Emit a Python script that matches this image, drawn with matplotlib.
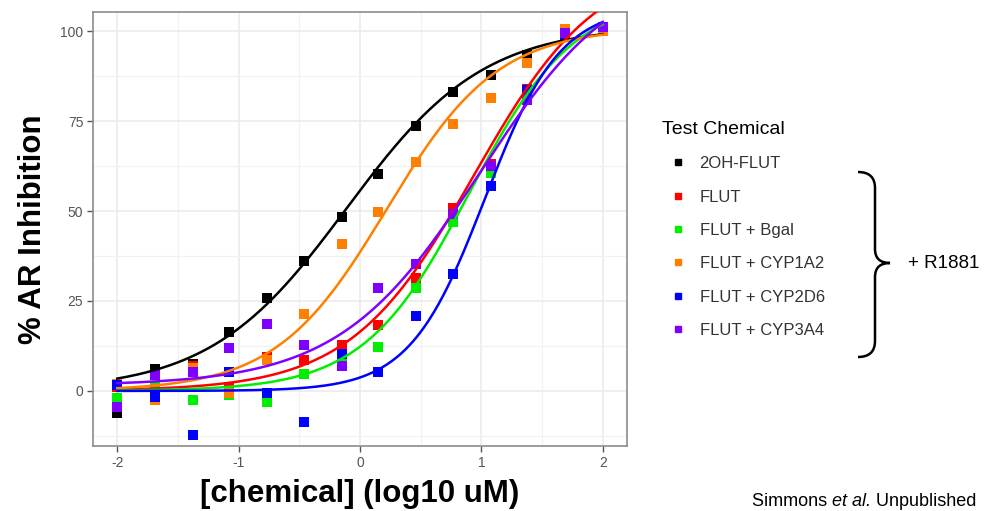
import numpy as np
import matplotlib
matplotlib.use("Agg")
import matplotlib.pyplot as plt
from matplotlib.path import Path
from matplotlib.patches import PathPatch
from matplotlib.lines import Line2D

plt.rcParams['font.family'] = ['Liberation Sans', 'DejaVu Sans']

# log10 uM concentrations (2-fold dilution series)
log_conc = [-2.0, -1.69, -1.38, -1.08, -0.77, -0.46, -0.15, 0.15, 0.46, 0.77, 1.08, 1.38, 1.69, 2.0]

names = ['2OH-FLUT', 'FLUT', 'FLUT + Bgal', 'FLUT + CYP1A2', 'FLUT + CYP2D6', 'FLUT + CYP3A4']
colors = ['#000000', '#FF0000', '#00EE00', '#FF8000', '#0000FF', '#8000FF']

# % AR inhibition
oh_flut = [-6.0, 6.0, 7.5, 16.3, 25.7, 36.0, 48.2, 60.4, 73.5, 83.2, 87.9, 93.3, 99.0, 101.0]
flut = [1.0, 1.0, 6.8, 1.0, 9.3, 8.5, 12.7, 18.3, 31.3, 50.7, 63.2, 84.0, 100.0, 101.0]
flut_bgal = [-2.0, 1.3, -2.6, -1.0, -3.0, 4.6, 7.5, 12.2, 28.5, 46.9, 60.7, 83.0, 100.0, 101.0]
flut_cyp1a2 = [2.0, -2.5, 6.5, -0.7, 8.5, 21.5, 40.7, 49.6, 63.5, 74.3, 81.3, 91.0, 100.7, 100.0]
flut_cyp2d6 = [1.6, -1.7, -12.3, 5.2, -0.7, -8.6, 10.4, 5.2, 20.7, 32.6, 57.0, 83.5, 99.0, 101.0]
flut_cyp3a4 = [-4.5, 4.4, 5.2, 11.9, 18.5, 12.9, 6.9, 28.7, 35.2, 49.2, 62.6, 80.8, 99.6, 101.0]
series = [oh_flut, flut, flut_bgal, flut_cyp1a2, flut_cyp2d6, flut_cyp3a4]

# fitted 4-parameter logistic curves: bottom, top, logEC50, hill slope
fit_bottom = [0.0, 0.0, 0.0, 0.0, 0.0, 1.5]
fit_top = [101.5, 120.0, 110.0, 101.0, 107.0, 120.0]
fit_ec50 = [-0.11, 0.94, 0.90, 0.22, 1.03, 0.99]
fit_hill = [0.77, 0.85, 1.0, 0.95, 1.4, 0.75]

W, H = 989, 511
fig = plt.figure(figsize=(W / 100, H / 100), dpi=100)
ax = fig.add_axes([93 / W, 1 - 446 / H, (627 - 93) / W, (446 - 12) / H])

xs = np.linspace(-2, 2, 300)
for i in range(len(names)):
    ax.scatter(log_conc, series[i], marker='s', s=42, color=colors[i], linewidths=0, zorder=3)
for i in range(len(names)):
    b, t, ec, n = fit_bottom[i], fit_top[i], fit_ec50[i], fit_hill[i]
    ys = b + (t - b) / (1 + 10 ** ((ec - xs) * n))
    ax.plot(xs, ys, color=colors[i], lw=1.8, zorder=4)

ax.set_xlim(-2.2, 2.2)
ax.set_ylim(-15.3, 105.3)
ax.set_xticks([-2, -1, 0, 1, 2])
ax.set_xticklabels(['-2', '-1', '0', '1', '2'])
ax.set_yticks([0, 25, 50, 75, 100])
ax.set_xticks([-1.5, -0.5, 0.5, 1.5], minor=True)
ax.set_yticks([-12.5, 12.5, 37.5, 62.5, 87.5], minor=True)
ax.grid(True, which='major', color='#EBEBEB', lw=1.2, zorder=0)
ax.grid(True, which='minor', color='#F2F2F2', lw=0.9, zorder=0)
ax.set_axisbelow(True)
ax.tick_params(which='major', direction='out', length=4, width=1, color='#555555',
               labelcolor='#555555', labelsize=10, pad=3)
ax.tick_params(which='minor', length=0)
for sp in ax.spines.values():
    sp.set_color('#8C8C8C')
    sp.set_linewidth(1.2)

ax.set_xlabel('[chemical] (log10 uM)', fontsize=22.5, fontweight='bold', labelpad=7)
ax.set_ylabel('% AR Inhibition', fontsize=22.5, fontweight='bold', labelpad=9)

handles = [Line2D([], [], marker='s', ls='', color=c, markersize=5) for c in colors]
leg = fig.legend(handles, names, loc='upper left', bbox_to_anchor=(647 / W, 1 - 106 / H),
                 frameon=False, title='Test Chemical', title_fontsize=14, fontsize=12,
                 handlelength=1.9, handletextpad=0.35, labelspacing=1.1, alignment='left')
for txt in leg.get_texts():
    txt.set_color('#333333')

# curly brace around the FLUT entries
def px(x, y):
    return (x / W, 1 - y / H)

bx0, bx1, tip = 858, 875, 890
ytop, ymid, ybot = 172, 263, 357
verts = [px(bx0, ytop), px(bx1, ytop), px(bx1, ytop + 16),
         px(bx1, ymid - 14),
         px(bx1, ymid), px(tip, ymid),
         px(bx1, ymid), px(bx1, ymid + 14),
         px(bx1, ybot - 16),
         px(bx1, ybot), px(bx0, ybot)]
codes = [Path.MOVETO, Path.CURVE3, Path.CURVE3,
         Path.LINETO,
         Path.CURVE3, Path.CURVE3,
         Path.CURVE3, Path.CURVE3,
         Path.LINETO,
         Path.CURVE3, Path.CURVE3]
fig.patches.append(PathPatch(Path(verts, codes), transform=fig.transFigure,
                             fill=False, lw=1.8, color='black'))
fig.text(908 / W, 1 - 263 / H, '+ R1881', fontsize=13.5, va='center', ha='left')

# citation at the bottom edge
yb = 1 - 510 / H
t1 = fig.text(752 / W, yb, 'Simmons ', fontsize=13, va='bottom', ha='left')
fig.canvas.draw()
r = fig.canvas.get_renderer()
e1 = t1.get_window_extent(r)
t2 = fig.text(e1.x1 / W, yb, 'et al.', fontsize=13, va='bottom', ha='left', style='italic')
e2 = t2.get_window_extent(r)
fig.text(e2.x1 / W, yb, ' Unpublished', fontsize=13, va='bottom', ha='left')

fig.savefig('out.png', dpi=100)
